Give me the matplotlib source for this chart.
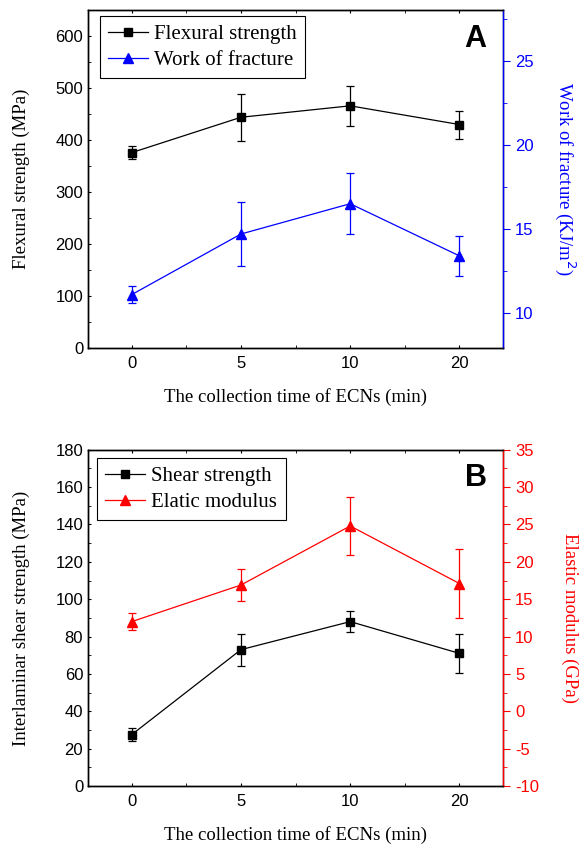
import matplotlib
matplotlib.use('Agg')
import matplotlib.pyplot as plt
from matplotlib.lines import Line2D
from matplotlib.ticker import MultipleLocator

# ── datos ──────────────────────────────────────────────
tiempos = ['0', '5', '10', '20']

flexural     = [376, 444, 466, 430]
flexural_err = [12, 45, 38, 27]

wof     = [11.1, 14.7, 16.5, 13.4]
wof_err = [0.5, 1.9, 1.8, 1.2]

shear     = [27.5, 73, 88, 71]
shear_err = [3.5, 8.5, 5.8, 10.5]

elastic     = [12.0, 16.9, 24.8, 17.1]
elastic_err = [1.1, 2.1, 3.9, 4.6]

SERIF = ['Liberation Serif', 'DejaVu Serif']
SANS = ['Liberation Sans', 'DejaVu Sans']
AZUL = '#0000ff'
ROJO = '#ff0000'

plt.rcParams['font.family'] = SANS
plt.rcParams['axes.linewidth'] = 1.0
plt.rcParams['axes.unicode_minus'] = False

fig = plt.figure(figsize=(5.83, 8.47), dpi=100)
x = list(range(len(tiempos)))


def estilo_ejes(ax, ax2, color2):
    ax.set_xlim(-0.4, 3.4)
    ax.set_xticks(x)
    ax.set_xticklabels(tiempos)
    ax.xaxis.set_minor_locator(MultipleLocator(0.5))
    ax.tick_params(axis='x', which='major', direction='out', length=5, labelsize=12, pad=6)
    ax.tick_params(axis='x', which='minor', direction='in', length=2)
    ax.tick_params(axis='y', which='major', direction='out', length=5, labelsize=12)
    ax.tick_params(axis='y', which='minor', direction='out', length=3)
    ax.tick_params(top=True, which='both', direction='in', length=2)
    ax2.tick_params(axis='y', which='major', direction='out', length=5,
                    labelsize=12, colors=color2)
    ax2.tick_params(axis='y', which='minor', direction='out', length=3, colors=color2)
    ax2.spines['right'].set_color(color2)
    ax.set_xlabel('The collection time of ECNs (min)', fontsize=13.5,
                  family=SERIF, labelpad=12)


def leyenda(ax, etiquetas, color2, loc_bbox):
    handles = [
        Line2D([], [], color='black', marker='s', markersize=5.5, linewidth=0.9),
        Line2D([], [], color=color2, marker='^', markersize=6.5, linewidth=0.9),
    ]
    leg = ax.legend(handles, etiquetas, loc='upper left', bbox_to_anchor=loc_bbox,
                    prop={'family': SERIF, 'size': 15}, fancybox=False,
                    edgecolor='black', framealpha=1, handlelength=1.9,
                    handletextpad=0.3, borderpad=0.4, labelspacing=0.3,
                    borderaxespad=0)
    leg.get_frame().set_linewidth(0.8)
    leg.set_zorder(10)


# ── Panel A ───────────────────────────────────────────
ax = fig.add_axes([0.151, 0.589, 0.712, 0.399])
ax2 = ax.twinx()
ax.errorbar(x, flexural, yerr=flexural_err, color='black', marker='s',
            markersize=5.5, linewidth=0.9, elinewidth=0.9, capsize=3,
            capthick=0.9)
ax2.errorbar(x, wof, yerr=wof_err, color=AZUL, marker='^', markersize=6.5,
             linewidth=0.9, elinewidth=0.9, capsize=3, capthick=0.9)
ax.set_ylim(0, 650)
ax.yaxis.set_major_locator(MultipleLocator(100))
ax.yaxis.set_minor_locator(MultipleLocator(50))
ax2.set_ylim(7.92, 28.0)
ax2.yaxis.set_major_locator(MultipleLocator(5))
ax2.yaxis.set_minor_locator(MultipleLocator(2.5))
estilo_ejes(ax, ax2, AZUL)
ax.set_ylabel('Flexural strength (MPa)', fontsize=13.5, family=SERIF, labelpad=18)
ax2.set_ylabel('Work of fracture (KJ/m$^2$)', fontsize=13.5, family=SERIF,
               color=AZUL, rotation=270, labelpad=32)
leyenda(ax, ['Flexural strength', 'Work of fracture'], AZUL, (0.028, 0.982))
ax.text(0.96, 0.96, 'A', transform=ax.transAxes, ha='right', va='top',
        fontsize=22, fontweight='bold', family=SANS)

# ── Panel B ───────────────────────────────────────────
bx = fig.add_axes([0.151, 0.072, 0.712, 0.397])
bx2 = bx.twinx()
bx.errorbar(x, shear, yerr=shear_err, color='black', marker='s',
            markersize=5.5, linewidth=0.9, elinewidth=0.9, capsize=3,
            capthick=0.9)
bx2.errorbar(x, elastic, yerr=elastic_err, color=ROJO, marker='^', markersize=6.5,
             linewidth=0.9, elinewidth=0.9, capsize=3, capthick=0.9)
bx.set_ylim(0, 180)
bx.yaxis.set_major_locator(MultipleLocator(20))
bx.yaxis.set_minor_locator(MultipleLocator(10))
bx2.set_ylim(-10, 35)
bx2.yaxis.set_major_locator(MultipleLocator(5))
bx2.yaxis.set_minor_locator(MultipleLocator(2.5))
estilo_ejes(bx, bx2, ROJO)
bx.set_ylabel('Interlaminar shear strength (MPa)', fontsize=13.5, family=SERIF,
              labelpad=18)
bx2.set_ylabel('Elastic modulus (GPa)', fontsize=13.5, family=SERIF,
               color=ROJO, rotation=270, labelpad=28)
leyenda(bx, ['Shear strength', 'Elatic modulus'], ROJO, (0.022, 0.975))
bx.text(0.96, 0.96, 'B', transform=bx.transAxes, ha='right', va='top',
        fontsize=22, fontweight='bold', family=SANS)

fig.savefig('out.png', dpi=100)
